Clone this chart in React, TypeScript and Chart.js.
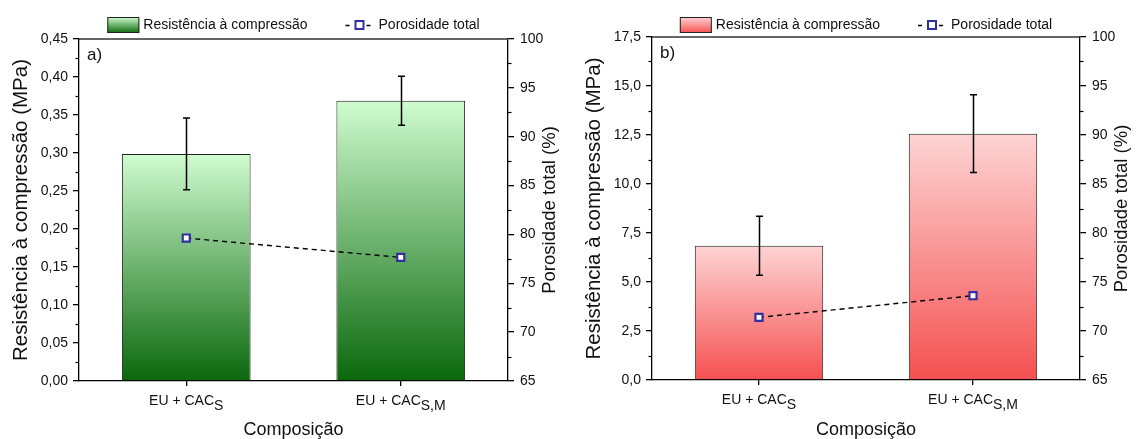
import React, { useEffect, useRef } from 'react';
import { Chart, registerables } from 'chart.js';

Chart.register(...registerables);

// ---------- data ----------
const categoryBase = ['EU + CAC', 'EU + CAC'];
const categorySub = ['S', 'S,M'];
const categoryLabels = categoryBase.map((b, i) => b + categorySub[i]);

const strengthA = [0.2987, 0.3687];
const strengthErrA = [0.0472, 0.0322];
const porosityA = [79.63, 77.65];

const strengthB = [6.85, 12.57];
const strengthErrB = [1.5, 1.98];
const porosityB = [71.39, 73.6];

const leftTicksA = [0, 0.45, 0.05, 2]; // min, max, step, decimals
const leftTicksB = [0, 17.5, 2.5, 1];
const rightTicks = [65, 100, 5, 0];

const legendLabels = ['Resistência à compressão', 'Porosidade total'];
const leftTitle = 'Resistência à compressão (MPa)';
const rightTitle = 'Porosidade total (%)';
const xTitle = 'Composição';

// ---------- style / layout ----------
const FONT = "'Liberation Sans', Arial, Helvetica, sans-serif";
const W = 571;
const H = 439;
const TEXT = '#111';

type Panel = {
  tag: string;
  strength: number[];
  err: number[];
  porosity: number[];
  left: number[];
  gradTop: string;
  gradBottom: string;
  area: { left: number; right: number; top: number; bottom: number };
  leftTitlePad: number;
  rightTitleX: number;
};

const panels: Panel[] = [
  {
    tag: 'a)',
    strength: strengthA,
    err: strengthErrA,
    porosity: porosityA,
    left: leftTicksA,
    gradTop: 'rgb(208,252,208)',
    gradBottom: 'rgb(10,104,12)',
    area: { left: 79, right: 508, top: 39, bottom: 381 },
    leftTitlePad: 9,
    rightTitleX: 550,
  },
  {
    tag: 'b)',
    strength: strengthB,
    err: strengthErrB,
    porosity: porosityB,
    left: leftTicksB,
    gradTop: 'rgb(254,212,212)',
    gradBottom: 'rgb(245,80,80)',
    area: { left: 81, right: 509, top: 37, bottom: 380 },
    leftTitlePad: 11,
    rightTitleX: 551,
  },
];

function makePlugin(p: Panel) {
  return {
    id: 'custom',
    afterDatasetDraw(chart: any, args: any) {
      if (args.index !== 1) return;
      const { ctx } = chart;
      const ys = chart.scales.y;
      const meta = chart.getDatasetMeta(1);
      ctx.save();
      ctx.strokeStyle = '#000';
      ctx.lineWidth = 1.5;
      meta.data.forEach((el: any, i: number) => {
        const v = p.strength[i];
        const e = p.err[i];
        const x = Math.round(el.x) + 0.5;
        const yt = ys.getPixelForValue(v + e);
        const yb = ys.getPixelForValue(v - e);
        ctx.beginPath();
        ctx.moveTo(x, yt);
        ctx.lineTo(x, yb);
        ctx.moveTo(x - 3.5, yt);
        ctx.lineTo(x + 3.5, yt);
        ctx.moveTo(x - 3.5, yb);
        ctx.lineTo(x + 3.5, yb);
        ctx.stroke();
      });
      ctx.restore();
    },
    afterDraw(chart: any) {
      const { ctx, chartArea: a, scales } = chart;
      ctx.save();
      // top frame
      ctx.strokeStyle = '#333';
      ctx.lineWidth = 1.5;
      ctx.beginPath();
      ctx.moveTo(a.left, a.top);
      ctx.lineTo(a.right, a.top);
      ctx.stroke();

      // minor ticks
      ctx.strokeStyle = '#000';
      ctx.lineWidth = 1.2;
      (['y', 'y1'] as const).forEach((id) => {
        const s = scales[id];
        const t = s.ticks;
        for (let i = 0; i < t.length - 1; i++) {
          const mid = (t[i].value + t[i + 1].value) / 2;
          const py = Math.round(s.getPixelForValue(mid)) + 0.5;
          ctx.beginPath();
          if (id === 'y') {
            ctx.moveTo(a.left, py);
            ctx.lineTo(a.left - 3.5, py);
          } else {
            ctx.moveTo(a.right, py);
            ctx.lineTo(a.right + 3.5, py);
          }
          ctx.stroke();
        }
      });

      // x tick labels with subscripts
      ctx.fillStyle = TEXT;
      ctx.textBaseline = 'alphabetic';
      ctx.textAlign = 'left';
      const xs = scales.x;
      ctx.font = `14px ${FONT}`;
      categoryBase.forEach((base, i) => {
        const x = xs.getPixelForValue(i);
        const bw = ctx.measureText(base).width;
        const sw = ctx.measureText(categorySub[i]).width;
        const start = x - (bw + sw) / 2;
        const baseY = a.bottom + 24;
        ctx.fillText(base, start, baseY);
        ctx.fillText(categorySub[i], start + bw, baseY + 5);
      });

      // right axis title (reads bottom-to-top)
      ctx.save();
      ctx.translate(p.rightTitleX, (a.top + a.bottom) / 2);
      ctx.rotate(-Math.PI / 2);
      ctx.font = `18.5px ${FONT}`;
      ctx.textAlign = 'center';
      ctx.textBaseline = 'middle';
      ctx.fillText(rightTitle, 0, 0);
      ctx.restore();

      // panel tag
      ctx.font = `17px ${FONT}`;
      ctx.textAlign = 'left';
      ctx.textBaseline = 'middle';
      ctx.fillText(p.tag, a.left + 8, a.top + 16);

      // legend
      ctx.font = `14px ${FONT}`;
      const t1 = ctx.measureText(legendLabels[0]).width;
      const t2 = ctx.measureText(legendLabels[1]).width;
      const boxW = 32;
      const boxH = 16;
      const gapBox = 4;
      const gapItems = 38;
      const symW = 33;
      const total = boxW + gapBox + t1 + gapItems + symW + t2;
      let sx = (a.left + a.right) / 2 - total / 2;
      const ly = 25;
      const g = ctx.createLinearGradient(0, ly - boxH / 2, 0, ly + boxH / 2);
      g.addColorStop(0, p.gradTop);
      g.addColorStop(1, p.gradBottom);
      ctx.fillStyle = g;
      ctx.fillRect(sx, ly - boxH / 2, boxW, boxH);
      ctx.strokeStyle = '#222';
      ctx.lineWidth = 1;
      ctx.strokeRect(sx + 0.5, ly - boxH / 2 + 0.5, boxW - 1, boxH - 1);
      sx += boxW + gapBox;
      ctx.fillStyle = TEXT;
      ctx.fillText(legendLabels[0], sx, ly);
      sx += t1 + gapItems;
      ctx.strokeStyle = '#000';
      ctx.lineWidth = 1.3;
      ctx.beginPath();
      ctx.moveTo(sx, ly + 0.5);
      ctx.lineTo(sx + 4, ly + 0.5);
      ctx.moveTo(sx + 21, ly + 0.5);
      ctx.lineTo(sx + 25, ly + 0.5);
      ctx.stroke();
      ctx.fillStyle = '#fff';
      ctx.fillRect(sx + 10, ly - 4, 8, 8);
      ctx.strokeStyle = '#3030a0';
      ctx.lineWidth = 2;
      ctx.strokeRect(sx + 10, ly - 4, 8, 8);
      sx += symW;
      ctx.fillStyle = TEXT;
      ctx.fillText(legendLabels[1], sx, ly);

      ctx.restore();
    },
  };
}

function fmt(v: number, d: number) {
  return v.toFixed(d).replace('.', ',');
}

function PanelChart({ p }: { p: Panel }) {
  const ref = useRef<HTMLCanvasElement | null>(null);
  useEffect(() => {
    if (!ref.current) return;
    const [lmin, lmax, lstep, ldec] = p.left;
    const [rmin, rmax, rstep, rdec] = rightTicks;
    const chart = new Chart(ref.current, {
      type: 'bar',
      data: {
        labels: categoryLabels,
        datasets: [
          {
            type: 'line',
            label: legendLabels[1],
            data: p.porosity,
            yAxisID: 'y1',
            order: 0,
            borderColor: '#000',
            borderWidth: 1.4,
            borderDash: [5, 4],
            pointStyle: 'rect',
            pointRadius: 5,
            pointBorderWidth: 2.2,
            pointBorderColor: '#3030a0',
            pointBackgroundColor: '#fff',
            tension: 0,
          } as any,
          {
            type: 'bar',
            label: legendLabels[0],
            data: p.strength,
            yAxisID: 'y',
            order: 1,
            barPercentage: 0.6,
            categoryPercentage: 1,
            borderColor: '#222',
            borderWidth: 1,
            borderSkipped: 'bottom',
            backgroundColor: (c: any) => {
              const ch = c.chart;
              if (!ch.chartArea || c.type !== 'data') return p.gradTop;
              const ys = ch.scales.y;
              const top = ys.getPixelForValue(p.strength[c.dataIndex]);
              const bot = ys.getPixelForValue(0);
              const g = ch.ctx.createLinearGradient(0, top, 0, bot);
              g.addColorStop(0, p.gradTop);
              g.addColorStop(1, p.gradBottom);
              return g;
            },
          } as any,
        ],
      },
      options: {
        responsive: false,
        animation: false,
        devicePixelRatio: 1,
        events: [],
        layout: { padding: { top: p.area.top, left: 0, right: 0, bottom: 0 } },
        plugins: { legend: { display: false }, tooltip: { enabled: false } },
        scales: {
          x: {
            type: 'category',
            offset: true,
            grid: { display: true, drawOnChartArea: false, offset: false, tickLength: 5, color: '#000', lineWidth: 1.3 },
            border: { display: true, color: '#000', width: 1.3 },
            ticks: { display: false },
            title: { display: true, text: xTitle, color: TEXT, font: { family: FONT, size: 18, lineHeight: 1 }, padding: { top: 0, bottom: 0 } },
            afterFit: (s: any) => { s.height = H - p.area.bottom; },
          },
          y: {
            type: 'linear',
            position: 'left',
            min: lmin,
            max: lmax,
            grid: { display: true, drawOnChartArea: false, tickLength: 6, color: '#000', lineWidth: 1.3 },
            border: { display: true, color: '#000', width: 1.3 },
            ticks: { stepSize: lstep, color: TEXT, padding: 5, font: { family: FONT, size: 14 }, callback: (v: any) => fmt(Number(v), ldec) },
            title: { display: true, text: leftTitle, color: TEXT, font: { family: FONT, size: 20.5, lineHeight: 1.2 }, padding: { top: p.leftTitlePad, bottom: 0 } },
            afterFit: (s: any) => { s.width = p.area.left; },
          },
          y1: {
            type: 'linear',
            position: 'right',
            min: rmin,
            max: rmax,
            grid: { display: true, drawOnChartArea: false, tickLength: 6, color: '#000', lineWidth: 1.3 },
            border: { display: true, color: '#000', width: 1.3 },
            ticks: { stepSize: rstep, color: TEXT, padding: 6, font: { family: FONT, size: 14 }, callback: (v: any) => fmt(Number(v), rdec) },
            afterFit: (s: any) => { s.width = W - p.area.right; },
          },
        },
      } as any,
      plugins: [makePlugin(p) as any],
    });
    return () => chart.destroy();
  }, [p]);
  return <canvas ref={ref} width={W} height={H} style={{ display: 'block', width: W, height: H }} />;
}

export default function App() {
  return (
    <div style={{ position: 'absolute', left: 0, top: 0, width: 2 * W, height: H, display: 'flex', background: '#fff' }}>
      {panels.map((p) => (
        <PanelChart key={p.tag} p={p} />
      ))}
    </div>
  );
}
